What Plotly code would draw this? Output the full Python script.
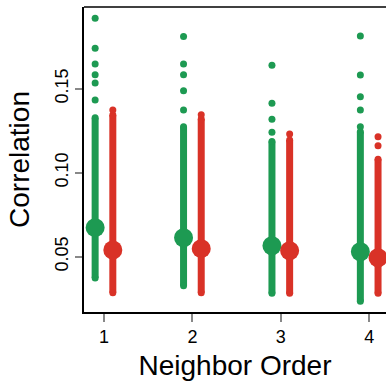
import plotly.graph_objects as go

orders = [1, 2, 3, 4]
x_ticks = ["1", "2", "3", "4"]
y_ticks = [0.05, 0.10, 0.15]

# green series (first group)
green_mean = [0.0673, 0.0613, 0.0565, 0.0530]
green_min = [0.0373, 0.0327, 0.0282, 0.0235]
green_dense_top = [0.1327, 0.1274, 0.1185, 0.1244]
green_outliers = [
    [0.1919, 0.1740, 0.1647, 0.1583, 0.1534, 0.1433],
    [0.1810, 0.1647, 0.1583, 0.1488, 0.1373],
    [0.1640, 0.1413, 0.1318, 0.1240],
    [0.1814, 0.1581, 0.1452, 0.1373, 0.1274],
]

# red series (second group)
red_mean = [0.0540, 0.0548, 0.0536, 0.0494]
red_min = [0.0286, 0.0285, 0.0283, 0.0283]
red_dense_top = [0.1343, 0.1320, 0.1195, 0.1080]
red_outliers = [
    [0.1373],
    [0.1345],
    [0.1230],
    [0.1214, 0.1160],
]

GREEN = "#1d9a52"
RED = "#d93227"
offset = 0.1

fig = go.Figure()

def add_group(xs, mins, tops, outs, means, color):
    for x, lo, hi, o, m in zip(xs, mins, tops, outs, means):
        fig.add_trace(go.Scatter(x=[x, x], y=[lo, hi], mode="lines+markers",
                                 line=dict(color=color, width=7),
                                 marker=dict(color=color, size=7),
                                 showlegend=False, hoverinfo="skip"))
        fig.add_trace(go.Scatter(x=[x] * len(o), y=o, mode="markers",
                                 marker=dict(color=color, size=7),
                                 showlegend=False, hoverinfo="skip"))
        fig.add_trace(go.Scatter(x=[x], y=[m], mode="markers",
                                 marker=dict(color=color, size=19),
                                 showlegend=False, hoverinfo="skip"))

add_group([o - offset for o in orders], green_min, green_dense_top, green_outliers, green_mean, GREEN)
add_group([o + offset for o in orders], red_min, red_dense_top, red_outliers, red_mean, RED)

font_family = "Liberation Sans, Arial, sans-serif"

fig.update_layout(
    width=386, height=381,
    margin=dict(l=84, r=0, t=7, b=69),
    paper_bgcolor="white", plot_bgcolor="white",
    font=dict(family=font_family, color="black"),
    xaxis=dict(range=[0.774, 4.19], tickvals=orders, ticktext=x_ticks,
               showline=True, linecolor="black", linewidth=1.5,
               ticks="outside", ticklen=8, tickcolor="#888", tickwidth=1.5,
               showgrid=False, zeroline=False,
               tickfont=dict(size=18),
               title=dict(text="Neighbor Order", font=dict(size=28), standoff=9)),
    yaxis=dict(range=[0.0171, 0.1986], tickvals=y_ticks, tickformat=".2f",
               tickangle=-90,
               showline=True, linecolor="black", linewidth=1.5,
               ticks="outside", ticklen=7, tickcolor="#888", tickwidth=1.5,
               showgrid=False, zeroline=False,
               tickfont=dict(size=18),
               title=dict(text="Correlation", font=dict(size=28), standoff=14)),
    shapes=[dict(type="line", xref="paper", yref="paper", x0=0, x1=1, y0=1, y1=1,
                 line=dict(color="black", width=1.5))],
)

fig.write_html("out.html")
